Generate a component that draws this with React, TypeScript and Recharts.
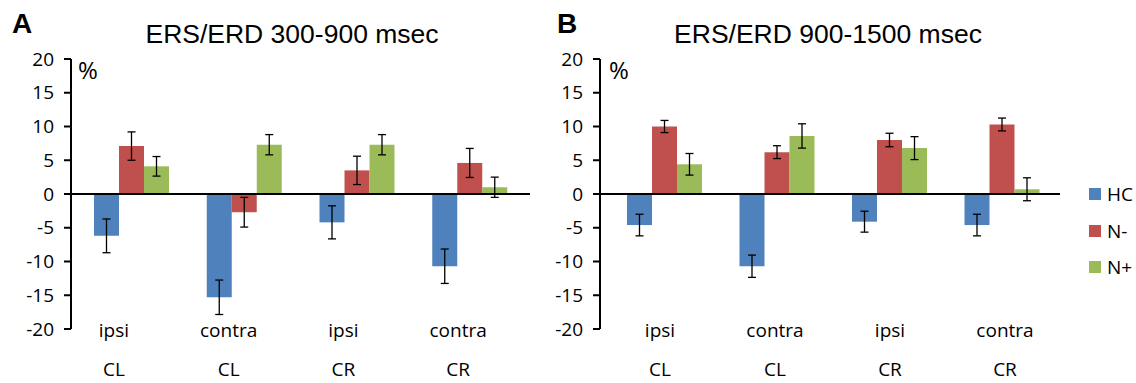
import React from 'react';
import { BarChart, Bar, XAxis, YAxis, ReferenceLine, ErrorBar } from 'recharts';

const groups = ['ipsi', 'contra', 'ipsi', 'contra'];
const sides = ['CL', 'CL', 'CR', 'CR'];
const seriesNames = ['HC', 'N-', 'N+'];
const seriesColors = ['#4F81BD', '#C0504D', '#9BBB59'];
const yTicks = [-20, -15, -10, -5, 0, 5, 10, 15, 20];

// Panel A: ERS/ERD 300-900 msec
const hcEarly = [-6.2, -15.3, -4.2, -10.7];
const hcEarlyErr = [2.5, 2.55, 2.45, 2.55];
const nmEarly = [7.1, -2.7, 3.5, 4.6];
const nmEarlyErr = [2.1, 2.2, 2.1, 2.15];
const npEarly = [4.1, 7.3, 7.3, 1.0];
const npEarlyErr = [1.45, 1.5, 1.5, 1.5];

// Panel B: ERS/ERD 900-1500 msec
const hcLate = [-4.6, -10.7, -4.1, -4.6];
const hcLateErr = [1.6, 1.65, 1.55, 1.6];
const nmLate = [10.0, 6.2, 8.0, 10.3];
const nmLateErr = [0.9, 0.95, 1.0, 0.95];
const npLate = [4.4, 8.6, 6.8, 0.7];
const npLateErr = [1.6, 1.8, 1.7, 1.7];

const buildRows = (hc: number[], hcE: number[], nm: number[], nmE: number[], np: number[], npE: number[]) =>
  groups.map((g, i) => ({
    key: `${g}-${sides[i]}`,
    HC: hc[i],
    HCerr: hcE[i],
    'N-': nm[i],
    'N-err': nmE[i],
    'N+': np[i],
    'N+err': npE[i],
  }));

const dataEarly = buildRows(hcEarly, hcEarlyErr, nmEarly, nmEarlyErr, npEarly, npEarlyErr);
const dataLate = buildRows(hcLate, hcLateErr, nmLate, nmLateErr, npLate, npLateErr);

const labelFont = "'Open Sans', sans-serif";

const makeTick = (shift: number) => (props: any) => {
  const { x, y, payload } = props;
  const i = payload.index;
  return (
    <g>
      <text x={x + shift} y={y + 8} textAnchor="middle" fontFamily={labelFont} fontSize={19} fill="#000">
        {groups[i]}
      </text>
      <text x={x + shift} y={y + 47} textAnchor="middle" fontFamily={labelFont} fontSize={19} fill="#000">
        {sides[i]}
      </text>
    </g>
  );
};

type PanelProps = {
  data: any[];
  width: number;
  margin: { top: number; right: number; bottom: number; left: number };
  padding: { left: number; right: number };
  labelShift: number;
};

const Panel = ({ data, width, margin, padding, labelShift }: PanelProps) => (
  <BarChart width={width} height={383} data={data} margin={margin} barGap={0} barCategoryGap={19}>
    <XAxis dataKey="key" hide height={0} padding={padding} />
    <XAxis
      xAxisId="lab"
      dataKey="key"
      height={40}
      axisLine={false}
      tickLine={false}
      tickSize={0}
      tickMargin={0}
      interval={0}
      tick={makeTick(labelShift)}
    />
    <YAxis
      width={60}
      domain={[-20, 20]}
      ticks={yTicks}
      interval={0}
      allowDataOverflow
      axisLine={{ stroke: '#000', strokeWidth: 2 }}
      tickLine={{ stroke: '#000', strokeWidth: 2 }}
      tickSize={7}
      tickMargin={10}
      tick={{ fill: '#000', fontSize: 19, fontFamily: labelFont }}
    />
    {seriesNames.map((name, si) => (
      <Bar key={name} dataKey={name} fill={seriesColors[si]} isAnimationActive={false}>
        <ErrorBar dataKey={`${name}err`} width={4} stroke="#000" strokeWidth={1.3} direction="y" />
      </Bar>
    ))}
    <ReferenceLine y={0} stroke="#000" strokeWidth={2} />
  </BarChart>
);

export default function App() {
  return (
    <div style={{ position: 'absolute', left: 0, top: 0, width: 1136, height: 383, background: '#fff', overflow: 'hidden' }}>
      <div style={{ position: 'absolute', left: 0, top: 0 }}>
        <Panel
          data={dataEarly}
          width={560}
          margin={{ top: 59, right: 30, bottom: 14, left: 11 }}
          padding={{ left: 4, right: 4 }}
          labelShift={-14.5}
        />
      </div>
      <div style={{ position: 'absolute', left: 530, top: 0 }}>
        <Panel
          data={dataLate}
          width={606}
          margin={{ top: 59, right: 76, bottom: 14, left: 10 }}
          padding={{ left: 8, right: 2 }}
          labelShift={2.5}
        />
      </div>
      <svg width={1136} height={383} style={{ position: 'absolute', left: 0, top: 0, pointerEvents: 'none' }}>
        <text x={12} y={33} fontFamily="'Liberation Sans', Arial, sans-serif" fontWeight="bold" fontSize={28} fill="#000">A</text>
        <text x={557} y={33} fontFamily="'Liberation Sans', Arial, sans-serif" fontWeight="bold" fontSize={28} fill="#000">B</text>
        <text x={292} y={43} textAnchor="middle" fontFamily="'Liberation Sans', Arial, sans-serif" fontSize={26.5} fill="#000">ERS/ERD 300-900 msec</text>
        <text x={828} y={43} textAnchor="middle" fontFamily="'Liberation Sans', Arial, sans-serif" fontSize={26.5} fill="#000">ERS/ERD 900-1500 msec</text>
        <text x={78} y={79} fontFamily={labelFont} fontSize={24} fill="#000">%</text>
        <text x={609} y={79} fontFamily={labelFont} fontSize={24} fill="#000">%</text>
      </svg>
      <div style={{ position: 'absolute', left: 1089, top: 176, fontFamily: labelFont, fontSize: 19, color: '#000' }}>
        {seriesNames.map((name, si) => (
          <div key={name} style={{ display: 'flex', alignItems: 'center', height: 36.5 }}>
            <span style={{ display: 'inline-block', width: 12, height: 12, background: seriesColors[si], marginRight: 6 }} />
            <span>{name}</span>
          </div>
        ))}
      </div>
    </div>
  );
}
